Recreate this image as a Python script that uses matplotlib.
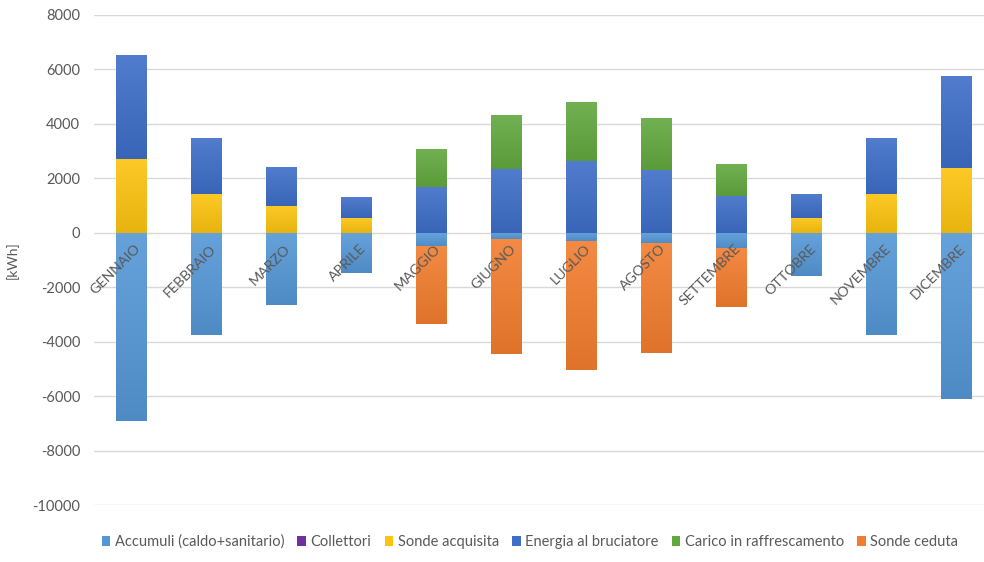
import numpy as np
import matplotlib
matplotlib.use("Agg")
import matplotlib.pyplot as plt
from matplotlib.colors import to_rgb

plt.rcParams['font.family'] = ['Lato', 'DejaVu Sans']
plt.rcParams['axes.unicode_minus'] = False

months = ["GENNAIO", "FEBBRAIO", "MARZO", "APRILE", "MAGGIO", "GIUGNO",
          "LUGLIO", "AGOSTO", "SETTEMBRE", "OTTOBRE", "NOVEMBRE", "DICEMBRE"]

# kWh per mese; i valori negativi sono energia ceduta
accumuli = [-6900, -3740, -2670, -1460, -510, -260, -320, -400, -590, -1570, -3740, -6120]
collettori = [0] * 12
sonde_acquisita = [2710, 1430, 990, 550, 0, 0, 0, 0, 0, 550, 1430, 2380]
energia_bruciatore = [3790, 2050, 1430, 770, 1690, 2340, 2640, 2310, 1350, 870, 2050, 3370]
carico_raffrescamento = [0, 0, 0, 0, 1390, 1950, 2160, 1900, 1140, 0, 0, 0]
sonde_ceduta = [0, 0, 0, 0, -2830, -4210, -4710, -4030, -2150, 0, 0, 0]

series = [
    ("Accumuli (caldo+sanitario)", accumuli, "#5597d6"),
    ("Collettori", collettori, "#7030a0"),
    ("Sonde acquisita", sonde_acquisita, "#fcc30f"),
    ("Energia al bruciatore", energia_bruciatore, "#3e6ec8"),
    ("Carico in raffrescamento", carico_raffrescamento, "#62a83f"),
    ("Sonde ceduta", sonde_ceduta, "#f27d2e"),
]

W = 0.41


def shade(col, f):
    c = np.array(to_rgb(col))
    return np.clip(c + (1 - c) * f if f > 0 else c * (1 + f), 0, 1)


def gradient_bar(ax, xc, y0, y1, col):
    # leggero sfumato verticale, chiaro in alto e scuro in basso
    lo, hi = min(y0, y1), max(y0, y1)
    top, bot = shade(col, 0.10), shade(col, -0.08)
    t = np.linspace(0, 1, 64)[:, None]
    img = (bot * (1 - t) + top * t)[:, None, :]
    ax.imshow(img, extent=(xc - W / 2, xc + W / 2, lo, hi), origin="lower",
              aspect="auto", interpolation="bilinear", zorder=3.1)


fig = plt.figure(figsize=(9.84, 5.62), dpi=100)
ax = fig.add_axes([94 / 984, 1 - 505 / 562, 900 / 984, 490 / 562])

x = np.arange(len(months))
pos = np.zeros(len(months))
neg = np.zeros(len(months))
for name, vals, col in series:
    v = np.array(vals, dtype=float)
    base = np.where(v >= 0, pos, neg)
    ax.bar(x, v, W, bottom=base, color=col, label=name, zorder=3)
    for xi, b, h in zip(x, base, v):
        if h != 0:
            gradient_bar(ax, xi, b, b + h, col)
    pos += np.clip(v, 0, None)
    neg += np.clip(v, None, 0)

ax.set_xlim(-0.5, len(months) - 0.5)
ax.set_ylim(-10000, 8000)
ax.set_yticks(np.arange(-10000, 8001, 2000))
ax.set_xticks([])
ax.tick_params(axis="y", length=0, labelsize=10.5, labelcolor="#595959", pad=10)
ax.grid(axis="y", color="#d9d9d9", lw=1, zorder=0)
for s in ax.spines.values():
    s.set_visible(False)
ax.set_ylabel("[kWh]", fontsize=10, color="#595959", labelpad=10)

for i, m in enumerate(months):
    ax.annotate(m, (i, 0), xytext=(2, -7), textcoords="offset points",
                rotation=45, rotation_mode="anchor", ha="right", va="top",
                fontsize=10.3, color="#595959", zorder=4)

fig.legend(*ax.get_legend_handles_labels(), loc="center", bbox_to_anchor=(530 / 984, 1 - 542 / 562),
           ncol=6, frameon=False, fontsize=10.5, handlelength=0.6, handleheight=0.6,
           handletextpad=0.3, columnspacing=0.9, labelcolor="#595959")

fig.savefig("out.png", dpi=100)
